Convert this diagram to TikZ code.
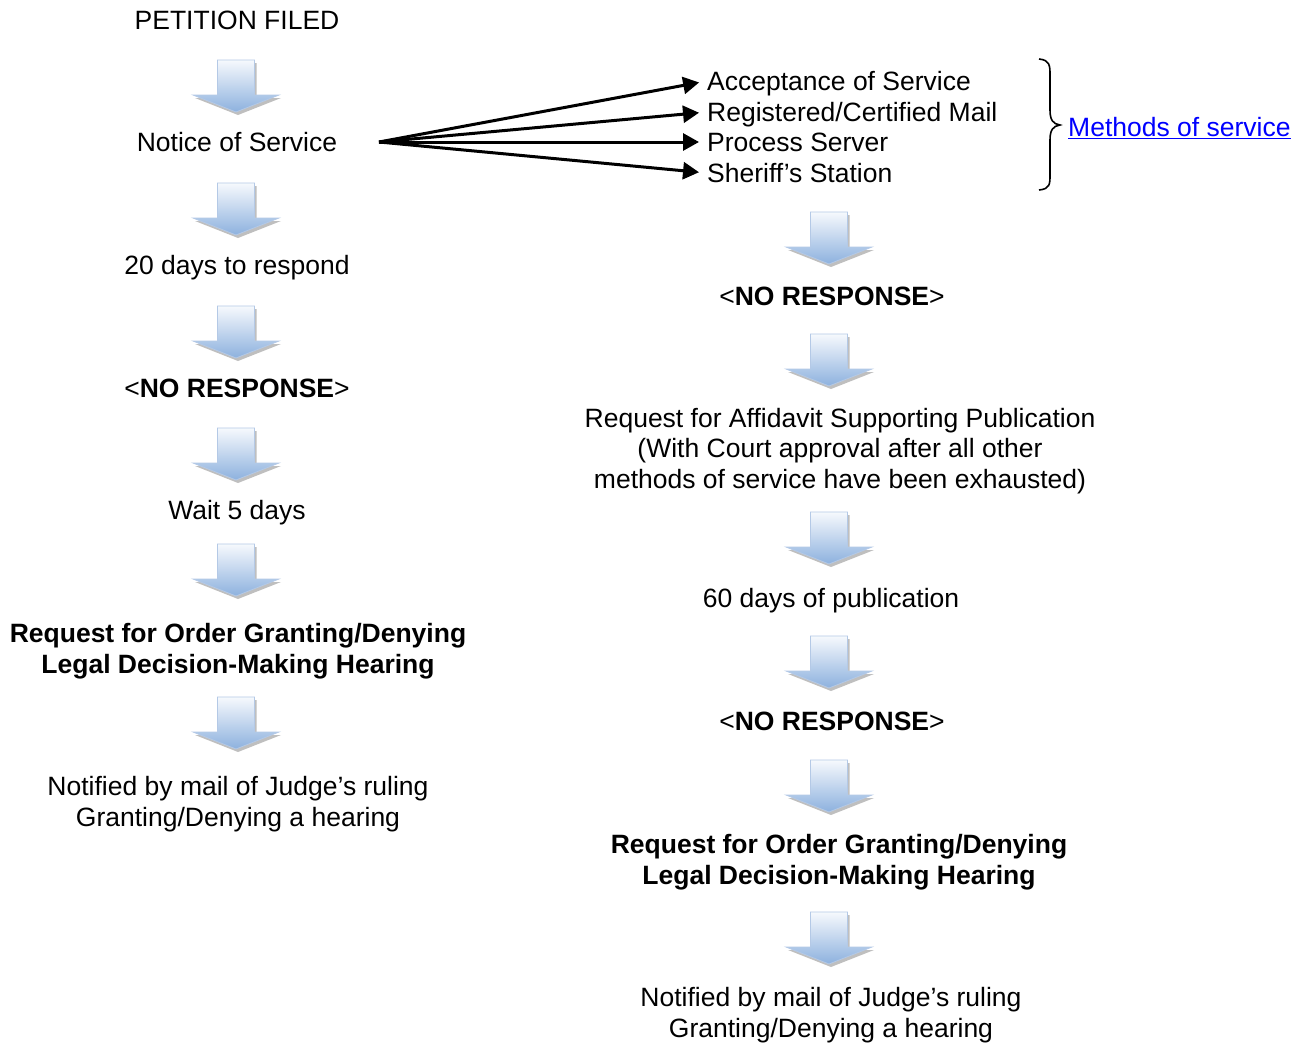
\documentclass[tikz,border=0pt]{standalone}
\usepackage{fontspec}
\setmainfont{Liberation Sans}
\usetikzlibrary{arrows.meta}
\definecolor{arrowtop}{RGB}{246,249,253}
\definecolor{arrowbot}{RGB}{141,177,222}
\definecolor{arrowline}{RGB}{180,201,230}
\definecolor{linkblue}{RGB}{0,0,255}
\tikzset{
  txt/.style={inner sep=0pt, align=center, font=\fontsize{26.5}{30.5}\selectfont},
  btxt/.style={txt, font=\fontsize{26.5}{30.5}\selectfont\bfseries},
  meth/.style={inner sep=0pt, anchor=west, text height=19.3pt, text depth=0pt, font=\fontsize{26.5}{30.5}\selectfont},
  fan/.style={line width=3pt, -{Triangle[length=16pt,width=17pt]}, shorten >=8pt},
  downarrow/.pic={
    \fill[black!50, opacity=0.5] (-16.5,3) -- (20.5,3) -- (20.5,38) -- (45,38) -- (2,55) -- (-41,38) -- (-16.5,38) -- cycle;
    \shade[top color=arrowtop, bottom color=arrowbot, draw=arrowline, line width=0.8pt]
      (-18.5,0) -- (18.5,0) -- (18.5,35) -- (43,35) -- (0,52) -- (-43,35) -- (-18.5,35) -- cycle;
  }
}
\begin{document}
\begin{tikzpicture}[x=1pt,y=-1pt]
\useasboundingbox[fill=white] (0,0) rectangle (1310,1044);

% left column
\node[txt] (pf) at (237,20) {PETITION FILED};
\pic at (236,60) {downarrow};
\node[txt] (notice) at (237,142) {Notice of Service};
\pic at (236,183) {downarrow};
\node[txt] (d20) at (237,268) {20 days to respond};
\pic at (236,306) {downarrow};
\node[txt] (nr1) at (237,388) {<\textbf{NO RESPONSE}>};
\pic at (236,428) {downarrow};
\node[txt] (w5) at (237,513) {Wait 5 days};
\pic at (236,544) {downarrow};
\node[btxt] (rq1) at (238,651) {Request for Order Granting/Denying\\Legal Decision-Making Hearing};
\pic at (236,697) {downarrow};
\node[txt] (nt1) at (238,804) {Notified by mail of Judge’s ruling\\Granting/Denying a hearing};

% methods
\coordinate (fanorg) at (379,142);
\node[meth] (m1) at (707,81) {Acceptance of Service};
\node[meth] (m2) at (707,112) {Registered/Certified Mail};
\node[meth] (m3) at (707,142) {Process Server};
\node[meth] (m4) at (707,173) {Sheriff’s Station};
\draw[fan] (fanorg) -- (m1.west);
\draw[fan] (fanorg) -- (m2.west);
\draw[fan] (fanorg) -- (m3.west);
\draw[fan] (fanorg) -- (m4.west);

% brace
\draw[line width=1.6pt] (1039,59) .. controls (1050,60) and (1050,66) .. (1050,75)
  -- (1050,110) .. controls (1050,120) and (1053,124) .. (1060,125)
  .. controls (1053,126) and (1050,130) .. (1050,140)
  -- (1050,175) .. controls (1050,184) and (1050,189) .. (1039,190);
\node[meth, text=linkblue] (mos) at (1068,127) {\underline{Methods of service}};

% right column
\pic at (829,212) {downarrow};
\node[txt] (nr2) at (832,296) {<\textbf{NO RESPONSE}>};
\pic at (829,334) {downarrow};
\node[txt] (aff) at (840,451) {Request for Affidavit Supporting Publication\\(With Court approval after all other\\methods of service have been exhausted)};
\pic at (829,512) {downarrow};
\node[txt] (d60) at (831,601) {60 days of publication};
\pic at (829,636) {downarrow};
\node[txt] (nr3) at (832,721) {<\textbf{NO RESPONSE}>};
\pic at (829,760) {downarrow};
\node[btxt] (rq2) at (839,862) {Request for Order Granting/Denying\\Legal Decision-Making Hearing};
\pic at (829,912) {downarrow};
\node[txt] (nt2) at (831,1015) {Notified by mail of Judge’s ruling\\Granting/Denying a hearing};
\end{tikzpicture}
\end{document}
